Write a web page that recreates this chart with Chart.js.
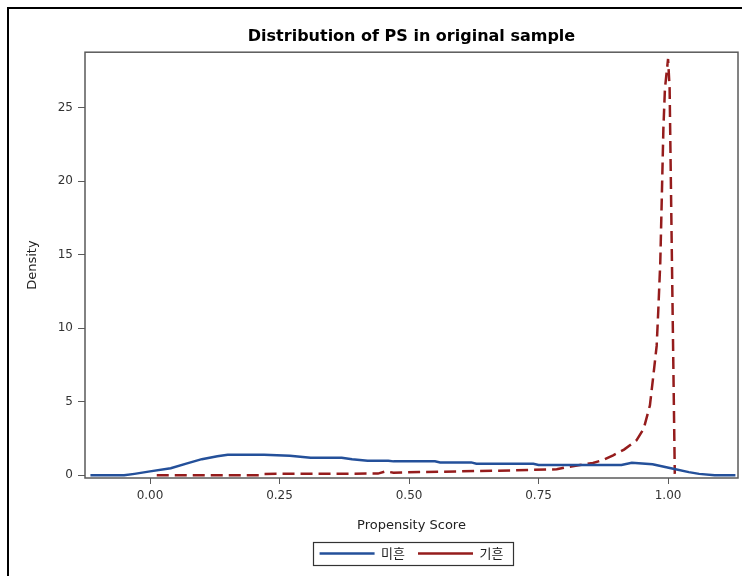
<!DOCTYPE html>
<html>
<head>
<meta charset="utf-8">
<script src="https://cdn.jsdelivr.net/npm/chart.js@4.4.0/dist/chart.umd.min.js"></script>
<style>
  html, body { margin: 0; padding: 0; background: #fff; overflow: hidden; }
  #frame { position: absolute; left: 7px; top: 7px; width: 780px; height: 620px; border: 2px solid #000; }
  #wrap { position: absolute; left: 0; top: 0; width: 742px; height: 576px; }
</style>
</head>
<body>
<div id="frame"></div>
<div id="wrap"><canvas id="c" width="742" height="576"></canvas></div>
<script>
const titleText = 'Distribution of PS in original sample';
const xAxisTitle = 'Propensity Score';
const yAxisTitle = 'Density';
const seriesNames = ['미흔', '기흔'];

const xTicks = [0, 0.25, 0.5, 0.75, 1.0];
const yTicks = [0, 5, 10, 15, 20, 25];

// Series 1 (미흔)
const blueX = [-0.115, -0.05, -0.03, 0.0, 0.04, 0.07, 0.1, 0.13, 0.15, 0.22, 0.27, 0.31, 0.37, 0.39, 0.42, 0.46, 0.47, 0.55, 0.56, 0.62, 0.63, 0.74, 0.75, 0.91, 0.93, 0.95, 0.97, 1.01, 1.04, 1.06, 1.09, 1.13];
const blueY = [0, 0, 0.1, 0.27, 0.48, 0.8, 1.1, 1.3, 1.4, 1.4, 1.33, 1.2, 1.2, 1.1, 1.0, 1.0, 0.95, 0.95, 0.88, 0.88, 0.79, 0.79, 0.7, 0.7, 0.86, 0.8, 0.75, 0.45, 0.22, 0.1, 0, 0];

// Series 2 (기흔)
const redX = [0.013, 0.21, 0.22, 0.44, 0.455, 0.47, 0.52, 0.6, 0.7, 0.785, 0.805, 0.83, 0.855, 0.875, 0.894, 0.915, 0.939, 0.953, 0.965, 0.971, 0.978, 0.981, 0.985, 0.988, 0.991, 0.994, 1.0, 1.003, 1.013];
const redY = [0, 0, 0.1, 0.12, 0.27, 0.18, 0.22, 0.27, 0.34, 0.41, 0.56, 0.7, 0.84, 1.05, 1.36, 1.75, 2.38, 3.17, 4.76, 6.6, 8.8, 11.1, 14.5, 19.0, 23.6, 26.3, 28.3, 26.3, 0.1];

const toPts = (xs, ys) => xs.map((x, i) => ({x: x, y: ys[i]}));

const FONT = "'DejaVu Sans', sans-serif";
const AXIS_COLOR = '#5a5a5a';

const framePlugin = {
  id: 'framePlugin',
  afterDraw(chart) {
    const {ctx, chartArea: a} = chart;
    ctx.save();
    ctx.strokeStyle = AXIS_COLOR;
    ctx.lineWidth = 1.5;
    ctx.strokeRect(a.left, a.top, a.right - a.left, a.bottom - a.top);
    const lg = chart.legend;
    if (lg && lg.legendHitBoxes && lg.legendHitBoxes.length) {
      const hb = lg.legendHitBoxes;
      const first = hb[0], last = hb[hb.length - 1];
      const l = first.left - 7, r = last.left + last.width + 9;
      const t = first.top - 5, b = first.top + first.height + 5;
      ctx.strokeStyle = '#333';
      ctx.lineWidth = 1.2;
      ctx.strokeRect(Math.round(l) + 0.5, Math.round(t) + 0.5, Math.round(r - l), Math.round(b - t));
    }
    ctx.restore();
  }
};

new Chart(document.getElementById('c'), {
  type: 'line',
  data: {
    datasets: [
      {
        label: seriesNames[0],
        data: toPts(blueX, blueY),
        borderColor: '#24509a',
        backgroundColor: '#24509a',
        borderWidth: 2.5,
        pointRadius: 0,
        tension: 0,
        fill: false
      },
      {
        label: seriesNames[1],
        data: toPts(redX, redY),
        borderColor: '#951c1c',
        backgroundColor: '#951c1c',
        borderWidth: 2.5,
        borderDash: [12, 6],
        pointRadius: 0,
        tension: 0,
        fill: false
      }
    ]
  },
  options: {
    responsive: false,
    animation: false,
    devicePixelRatio: 1,
    layout: { padding: { left: 0, right: 4, top: 0, bottom: 6 } },
    scales: {
      x: {
        type: 'linear',
        min: -0.1255,
        max: 1.135,
        afterBuildTicks: s => { s.ticks = xTicks.map(v => ({value: v})); },
        afterFit: s => { s.height = 56; },
        border: { display: false },
        grid: { drawOnChartArea: false, drawTicks: true, tickLength: 6, color: AXIS_COLOR, lineWidth: 1 },
        ticks: { padding: 5, color: '#333', font: { family: FONT, size: 12 }, callback: v => Number(v).toFixed(2), maxRotation: 0, autoSkip: false },
        title: { display: true, text: xAxisTitle, color: '#222', font: { family: FONT, size: 13 }, padding: { top: 4, bottom: 1 } }
      },
      y: {
        type: 'linear',
        min: -0.18,
        max: 28.76,
        afterBuildTicks: s => { s.ticks = yTicks.map(v => ({value: v})); },
        afterFit: s => { s.width = 85; },
        border: { display: false },
        grid: { drawOnChartArea: false, drawTicks: true, tickLength: 7, color: AXIS_COLOR, lineWidth: 1 },
        ticks: { padding: 5, color: '#333', font: { family: FONT, size: 12 }, autoSkip: false },
        title: { display: true, text: yAxisTitle, color: '#222', font: { family: FONT, size: 13 }, padding: { top: 25, bottom: 0 } }
      }
    },
    plugins: {
      title: {
        display: true,
        text: titleText,
        fullSize: false,
        color: '#000',
        font: { family: FONT, size: 16, weight: 'bold' },
        padding: { top: 27, bottom: 6 }
      },
      legend: {
        position: 'bottom',
        fullSize: false,
        labels: {
          usePointStyle: true,
          pointStyle: 'line',
          pointStyleWidth: 55,
          boxHeight: 13,
          padding: 13,
          color: '#222',
          font: { family: "'Noto Sans CJK KR', sans-serif", size: 13 }
        }
      },
      tooltip: { enabled: false }
    }
  },
  plugins: [framePlugin]
});
</script>
</body>
</html>
